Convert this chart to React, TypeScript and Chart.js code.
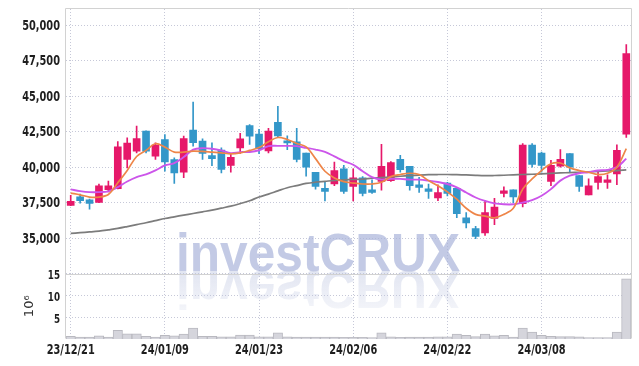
import React, { useEffect, useRef } from 'react';
import { Chart, registerables } from 'chart.js';

Chart.register(...registerables);

const dates = [
  '23/12/21', '23/12/22', '23/12/26', '23/12/27', '23/12/28',
  '24/01/02', '24/01/03', '24/01/04', '24/01/05', '24/01/08', '24/01/09', '24/01/10', '24/01/11', '24/01/12',
  '24/01/15', '24/01/16', '24/01/17', '24/01/18', '24/01/19', '24/01/22', '24/01/23', '24/01/24', '24/01/25',
  '24/01/26', '24/01/29', '24/01/30', '24/01/31',
  '24/02/01', '24/02/02', '24/02/05', '24/02/06', '24/02/07', '24/02/08', '24/02/13', '24/02/14', '24/02/15',
  '24/02/16', '24/02/19', '24/02/20', '24/02/21', '24/02/22', '24/02/23', '24/02/26', '24/02/27', '24/02/28', '24/02/29',
  '24/03/04', '24/03/05', '24/03/06', '24/03/07', '24/03/08', '24/03/11', '24/03/12', '24/03/13', '24/03/14',
  '24/03/15', '24/03/18', '24/03/19', '24/03/20', '24/03/21',
];
const xTickLabels = ['23/12/21', '24/01/09', '24/01/23', '24/02/06', '24/02/22', '24/03/08'];

const opens = [
  37310, 37900, 37700, 37520, 38420, 38480, 40540, 41130, 42540, 40775,
  41950, 40540, 39650, 42610, 41830, 40820, 41200, 40120, 41360, 42930,
  42330, 41140, 43165, 41830, 41780, 41000, 39640, 38500, 38810, 39880,
  38640, 39240, 38400, 39000, 39050, 40550, 40050, 38760, 38470, 37830,
  38880, 38500, 36430, 35670, 35360, 36380, 38140, 38400, 37430, 41550,
  41000, 39000, 40070, 40950, 39400, 38050, 38930, 38930, 39530, 42320,
];
const highs = [
  38010, 38100, 37750, 38800, 39010, 41810, 42070, 42890, 42560, 41720,
  42300, 40660, 42190, 44590, 41990, 41720, 41360, 40940, 42380, 43000,
  42670, 42740, 44280, 42210, 42740, 41000, 39640, 38930, 40360, 40120,
  39880, 39330, 39100, 41600, 40400, 40830, 40050, 39290, 38810, 38750,
  38930, 38500, 36790, 35830, 37620, 37810, 38620, 38400, 41670, 41670,
  41070, 40480, 41240, 40950, 39400, 39170, 39760, 39450, 41570, 48650,
];
const lows = [
  37280, 37460, 37030, 37500, 38250, 38470, 39950, 41010, 41000, 40540,
  39720, 38850, 39250, 41480, 40540, 40100, 39600, 39650, 40960, 41600,
  40950, 41000, 42140, 41240, 40360, 39360, 38450, 37620, 38690, 38140,
  37620, 37980, 38140, 38380, 39000, 39640, 38380, 38210, 37800, 37640,
  37980, 36430, 35710, 34950, 35190, 35950, 37900, 37500, 37190, 40000,
  39640, 38690, 40000, 39640, 38290, 38050, 38450, 38500, 38770, 42090,
];
const closes = [
  37590, 37630, 37450, 38680, 38680, 41430, 41690, 42020, 41130, 41550,
  40375, 39600, 42020, 41720, 40960, 40590, 39835, 40700, 42000, 42180,
  41310, 42550, 42210, 41710, 40550, 40000, 38640, 38290, 39760, 38290,
  39240, 38140, 38210, 40050, 40330, 39830, 38690, 38570, 38290, 38210,
  38140, 36720, 36070, 35120, 36790, 37190, 38330, 37900, 41550, 40190,
  40120, 40120, 40550, 40000, 38640, 38690, 39330, 39100, 41190, 48010,
];

const maShort = [
  38170, 38050, 37890, 37890, 38075, 38900, 39770, 40750, 41180, 41650,
  41410, 41060, 41060, 41130, 41110, 41060, 41010, 40940, 41010, 41180,
  41380, 41790, 42090, 41950, 41670, 41430, 40600, 39710, 39240, 38980,
  38880, 38810, 38810, 38930, 39330, 39480, 39570, 39480, 39050, 38690,
  38260, 37740, 37100, 36670, 36550, 36430, 36670, 37100, 38450, 39170,
  39760, 40240, 40290, 39950, 39760, 39640, 39480, 39570, 40000, 41310,
];
const maMid = [
  38430, 38310, 38240, 38240, 38290, 38590, 38990, 39300, 39490, 39770,
  40120, 40290, 40710, 41230, 41340, 41300, 41180, 40990, 41060, 41070,
  41190, 41480, 41500, 41500, 41480, 41360, 41240, 41070, 40760, 40430,
  40170, 39710, 39290, 39120, 39170, 39170, 39120, 39120, 39050, 38950,
  38810, 38570, 38210, 37860, 37620, 37450, 37380, 37380, 37500, 37670,
  37980, 38450, 39050, 39400, 39570, 39640, 39760, 39810, 40000, 40600,
];
const maLong = [
  35330, 35380, 35430, 35490, 35580, 35680, 35810, 35950, 36080, 36230,
  36380, 36500, 36620, 36730, 36850, 36970, 37110, 37250, 37430, 37630,
  37900, 38100, 38330, 38550, 38700, 38850, 38940, 39000, 39060, 39100,
  39130, 39160, 39220, 39260, 39310, 39360, 39400, 39440, 39470, 39480,
  39480, 39470, 39450, 39420, 39400, 39410, 39430, 39460, 39480, 39500,
  39530, 39560, 39590, 39620, 39640, 39670, 39700, 39730, 39760, 39810,
];

// volume in millions of shares
const volumes = [
  0.6, 0.45, 0.45, 0.7, 0.45, 2.0, 1.2, 1.2, 0.6, 0.45,
  0.85, 0.7, 1.1, 2.5, 0.6, 0.6, 0.5, 0.5, 0.9, 0.9,
  0.5, 0.5, 1.4, 0.5, 0.45, 0.45, 0.45, 0.45, 0.45, 0.4,
  0.4, 0.4, 0.35, 1.4, 0.5, 0.4, 0.45, 0.45, 0.45, 0.5,
  0.5, 1.1, 0.85, 0.55, 1.1, 0.7, 0.85, 0.45, 2.5, 1.6,
  0.85, 0.6, 0.55, 0.55, 0.5, 0.3, 0.3, 0.3, 1.6, 13.8,
];

const priceTicks = [35000, 37500, 40000, 42500, 45000, 47500, 50000];
const priceMin = 32500;
const priceMax = 51150;
const volumeTicks = [5, 10, 15];
const volumeMax = 15;
const volumeUnit = '10⁶';
const watermark = 'investCRUX';

const UP = '#e6186a';
const DOWN = '#3397c9';
const GRID = '#c6c8d8';
const FRAME = '#d2d2d2';
const LABEL_FONT = "bold 14px 'DejaVu Sans', sans-serif";
const LABEL_SX = 0.7;

const framePlugin = {
  id: 'frame',
  beforeDatasetsDraw(chart: any) {
    const { ctx, chartArea } = chart;
    const yv = chart.scales.yv;
    ctx.save();
    ctx.font = "bold 60px 'Liberation Sans', 'DejaVu Sans', sans-serif";
    const w = ctx.measureText(watermark).width;
    ctx.translate(176, 271);
    ctx.scale(284 / w, 0.88);
    ctx.textBaseline = 'alphabetic';
    ctx.fillStyle = 'rgba(170,180,218,0.7)';
    ctx.fillText(watermark, 0, 0);
    ctx.scale(1, -1);
    const g = ctx.createLinearGradient(0, 0, 0, -50);
    g.addColorStop(0, 'rgba(190,198,225,0.45)');
    g.addColorStop(1, 'rgba(190,198,225,0.15)');
    ctx.fillStyle = g;
    ctx.fillText(watermark, 0, 0);
    ctx.restore();

    ctx.save();
    ctx.strokeStyle = FRAME;
    ctx.lineWidth = 1;
    ctx.beginPath();
    const l = Math.round(chartArea.left) - 0.5;
    const r = Math.round(chartArea.right) + 0.5;
    const t = Math.round(chartArea.top) - 0.5;
    const b = Math.round(chartArea.bottom) - 0.5;
    ctx.moveTo(l, b);
    ctx.lineTo(l, t);
    ctx.lineTo(r, t);
    ctx.lineTo(r, b);
    const d = Math.round(yv.top) + 0.5;
    ctx.moveTo(l, d);
    ctx.lineTo(r, d);
    ctx.stroke();
    ctx.restore();
  },
};

const labelPlugin = {
  id: 'axisLabels',
  afterDraw(chart: any) {
    const { ctx } = chart;
    const xs = chart.scales.x;
    const ys = chart.scales.y;
    const yv = chart.scales.yv;
    const draw = (text: string, x: number, y: number, align: CanvasTextAlign, font: string) => {
      ctx.save();
      ctx.translate(x, y);
      ctx.scale(LABEL_SX, 1);
      ctx.font = font;
      ctx.fillStyle = '#1e1e1e';
      ctx.textAlign = align;
      ctx.textBaseline = 'middle';
      ctx.fillText(text, 0, 0);
      ctx.restore();
    };
    priceTicks.forEach((v) => draw(v.toLocaleString('en-US'), 60, ys.getPixelForValue(v) + 1, 'right', LABEL_FONT));
    volumeTicks.forEach((v) => draw(String(v), 60, yv.getPixelForValue(v) + 2.5, 'right', "bold 12.5px 'DejaVu Sans', sans-serif"));
    xTickLabels.forEach((s) => draw(s, xs.getPixelForValue(dates.indexOf(s)), 350, 'center', LABEL_FONT));
  },
};

export default function App() {
  const ref = useRef<HTMLCanvasElement>(null);
  useEffect(() => {
    const colors = closes.map((c, i) => (c >= opens[i] ? UP : DOWN));
    const chart = new Chart(ref.current as HTMLCanvasElement, {
      type: 'bar',
      data: {
        labels: dates,
        datasets: [
          {
            type: 'line', label: 'MA5', data: maShort, yAxisID: 'y', order: 0,
            borderColor: '#ee8548', borderWidth: 1.7, pointRadius: 0, tension: 0.35,
          },
          {
            type: 'line', label: 'MA20', data: maMid, yAxisID: 'y', order: 0,
            borderColor: '#cc55ea', borderWidth: 1.9, pointRadius: 0, tension: 0.35,
          },
          {
            type: 'line', label: 'MA120', data: maLong, yAxisID: 'y', order: 0,
            borderColor: '#7c7c7c', borderWidth: 1.7, pointRadius: 0, tension: 0.35,
          },
          {
            type: 'bar', label: 'body', data: opens.map((o, i) => [o, closes[i]]) as any,
            yAxisID: 'y', order: 1, grouped: false, barThickness: 7, minBarLength: 2,
            backgroundColor: colors, borderWidth: 0,
          },
          {
            type: 'bar', label: 'wick', data: lows.map((l, i) => [l, highs[i]]) as any,
            yAxisID: 'y', order: 2, grouped: false, barThickness: 1,
            backgroundColor: colors, borderWidth: 0,
          },
          {
            type: 'bar', label: 'volume', data: volumes, yAxisID: 'yv', order: 3,
            grouped: false, barPercentage: 1, categoryPercentage: 1,
            backgroundColor: '#d5d5dc', borderColor: '#b9b9c0', borderWidth: 1,
          },
        ],
      },
      options: {
        responsive: false,
        animation: false,
        layout: { padding: { top: 9, right: 8, left: 0, bottom: 0 } },
        plugins: { legend: { display: false }, tooltip: { enabled: false } },
        scales: {
          x: {
            type: 'category',
            offset: true,
            grid: { offset: false, color: GRID, drawTicks: false },
            border: { display: false, dash: [1, 2] },
            ticks: { display: false },
            afterBuildTicks: (s: any) => {
              s.ticks = xTickLabels.map((d) => ({ value: dates.indexOf(d) }));
            },
            afterFit: (s: any) => { s.height = 27; },
          },
          y: {
            type: 'linear', position: 'left', stack: 'panes', stackWeight: 4.04, weight: 1,
            min: priceMin, max: priceMax,
            grid: { color: GRID, drawTicks: false },
            border: { display: false, dash: [1, 2] },
            ticks: { display: false },
            afterBuildTicks: (s: any) => {
              s.ticks = priceTicks.map((v) => ({ value: v }));
            },
            afterFit: (s: any) => { s.width = 66; },
          },
          yv: {
            type: 'linear', position: 'left', stack: 'panes', stackWeight: 1, weight: 0,
            min: 0, max: volumeMax,
            grid: { color: GRID, drawTicks: false },
            border: { display: false, dash: [1, 2] },
            title: {
              display: true, text: volumeUnit, color: '#333',
              font: { family: "'DejaVu Sans', sans-serif", size: 13 }, padding: { top: 22, bottom: 0 },
            },
            ticks: { display: false },
            afterBuildTicks: (s: any) => {
              s.ticks = volumeTicks.map((v) => ({ value: v }));
            },
            afterFit: (s: any) => { s.width = 66; },
          },
        },
      } as any,
      plugins: [framePlugin, labelPlugin],
    });
    return () => chart.destroy();
  }, []);

  return (
    <div style={{ position: 'fixed', left: 0, top: 0, width: 639, height: 366, background: '#fff' }}>
      <canvas ref={ref} width={639} height={366} style={{ display: 'block' }} />
    </div>
  );
}
